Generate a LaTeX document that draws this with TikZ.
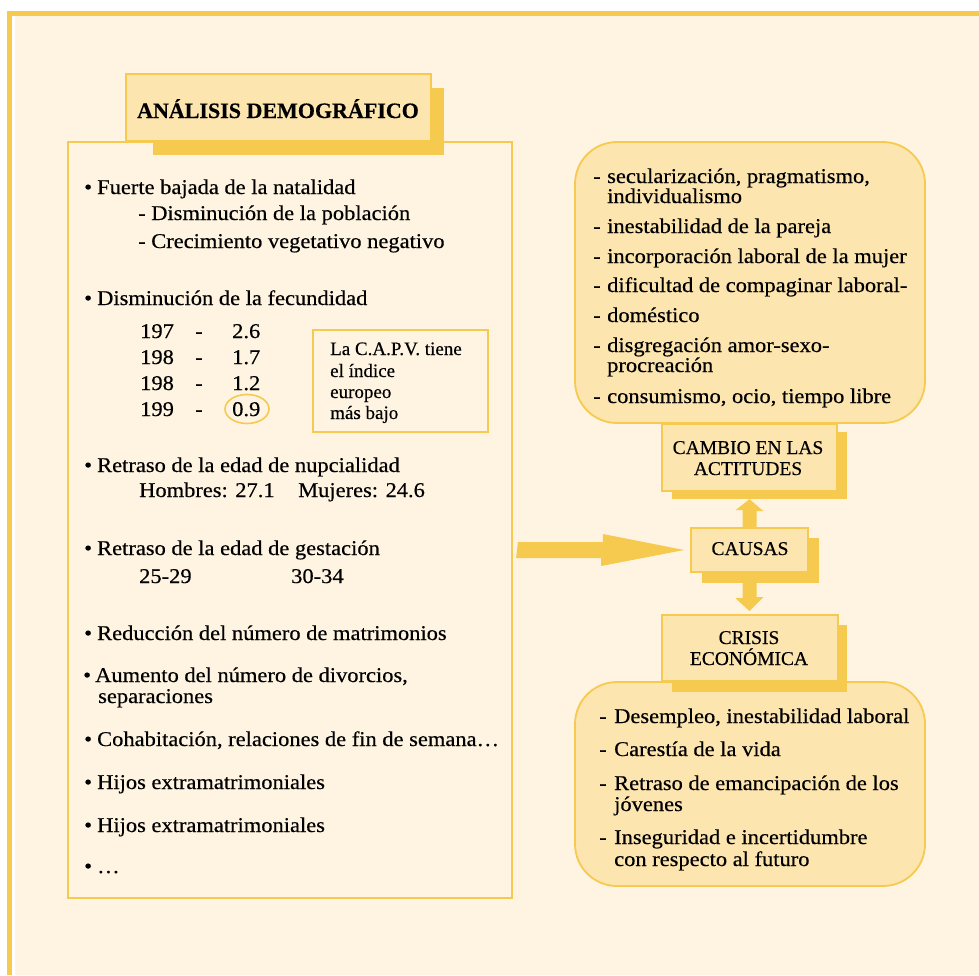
\documentclass[tikz,border=0pt]{standalone}
\usepackage{fontspec}
\setmainfont{Liberation Serif}[FakeStretch=1.07,FakeBold=0.4]
\newfontfamily\plainserif{Liberation Serif}[FakeBold=0.4]
\usetikzlibrary{shapes.geometric,calc}
\definecolor{ylw}{HTML}{F6C94F}
\definecolor{cream}{HTML}{FEF4E1}
\definecolor{lite}{HTML}{FDE5B0}
\begin{document}
\begin{tikzpicture}[x=1pt,y=-1pt,
  t/.style={anchor=base west,inner sep=0pt,font=\fontsize{21}{22}\selectfont},
  tc/.style={anchor=base,inner sep=0pt,font=\plainserif\fontsize{19.5}{20}\selectfont},
  capv/.style={anchor=base west,inner sep=0pt,font=\plainserif\fontsize{19}{20}\selectfont},
  frame/.style={draw=ylw,line width=1.8pt,inner sep=0pt},
  sqbox/.style={frame,fill=lite},
  shadowbox/.style={fill=ylw,inner sep=0pt},
  roundbox/.style={frame,fill=lite,rounded corners=42pt},
  mainbox/.style={frame,fill=cream}]
\useasboundingbox (0,0) rectangle (979,975);
\clip (0,0) rectangle (979,975);
\fill[white] (0,0) rectangle (979,975);
\fill[cream] (15,16) rectangle (979,975);
\fill[ylw] (7,11) rectangle (979,16);
\fill[ylw] (7,11) rectangle (12,975);

% main left box and title
\node[mainbox,minimum width=444pt,minimum height=756pt] (main) at (290,520) {};
\node[shadowbox,minimum width=291pt,minimum height=67pt] (titlesh) at (298.5,121.5) {};
\node[sqbox,minimum width=305pt,minimum height=67pt] (title) at (278.5,107.5) {};
\node[tc,font=\plainserif\fontsize{22}{23}\selectfont\bfseries] (titletxt) at (278,118) {ANÁLISIS DEMOGRÁFICO};

% left list
\node[t] (b1) at (84,194) {•};
\node[t] (l1) at (97,194) {Fuerte bajada de la natalidad};
\node[t] (l1a) at (138,220) {- Disminución de la población};
\node[t] (l1b) at (138,248) {- Crecimiento vegetativo negativo};
\node[t] (b2) at (84,305) {•};
\node[t] (l2) at (97,305) {Disminución de la fecundidad};
\node[t] (y1) at (140,338) {197};
\node[t] (d1) at (195,338) {-};
\node[t] (v1) at (232,338) {2.6};
\node[t] (y2) at (140,364) {198};
\node[t] (d2) at (195,364) {-};
\node[t] (v2) at (232,364) {1.7};
\node[t] (y3) at (140,390) {198};
\node[t] (d3) at (195,390) {-};
\node[t] (v3) at (232,390) {1.2};
\node[t] (y4) at (140,416) {199};
\node[t] (d4) at (195,416) {-};
\node[t] (v4) at (232,416) {0.9};
\node[draw=ylw,line width=1.6pt,ellipse,minimum width=44pt,minimum height=29pt,inner sep=0pt] (ring) at (247,409) {};
\node[frame,fill=cream,minimum width=175pt,minimum height=102pt] (capvbox) at (400.5,381) {};
\node[capv] (c1) at (330,355) {La C.A.P.V. tiene};
\node[capv] (c2) at (330,377) {el índice};
\node[capv] (c3) at (330,398) {europeo};
\node[capv] (c4) at (330,419) {más bajo};
\node[t] (b3) at (84,472) {•};
\node[t] (l3) at (97,472) {Retraso de la edad de nupcialidad};
\node[t] (l3a) at (139,497) {Hombres: 27.1};
\node[t] (l3b) at (298,497) {Mujeres: 24.6};
\node[t] (b4) at (84,555) {•};
\node[t] (l4) at (97,555) {Retraso de la edad de gestación};
\node[t] (l4a) at (139,583) {25-29};
\node[t] (l4b) at (291,583) {30-34};
\node[t] (b5) at (84,640) {•};
\node[t] (l5) at (97,640) {Reducción del número de matrimonios};
\node[t] (b6) at (83,682) {•};
\node[t] (l6) at (95,682) {Aumento del número de divorcios,};
\node[t] (l6a) at (98,703) {separaciones};
\node[t] (b7) at (84,746) {•};
\node[t] (l7) at (97,746) {Cohabitación, relaciones de fin de semana…};
\node[t] (b8) at (84,789) {•};
\node[t] (l8) at (97,789) {Hijos extramatrimoniales};
\node[t] (b9) at (84,832) {•};
\node[t] (l9) at (97,832) {Hijos extramatrimoniales};
\node[t] (b10) at (84,873) {•};
\node[t] (l10) at (97,873) {…};

% right column boxes
\node[roundbox,minimum width=350pt,minimum height=281pt] (actbox) at (750,282.5) {};
\node[roundbox,minimum width=350pt,minimum height=204pt] (ecobox) at (750,784) {};

\node[shadowbox,minimum width=175pt,minimum height=67pt] (cambiosh) at (759.5,465.5) {};
\node[sqbox,minimum width=175pt,minimum height=67pt] (cambio) at (749.5,457.5) {};
\node[shadowbox,minimum width=117pt,minimum height=45pt] (causassh) at (760.5,560.5) {};
\node[sqbox,minimum width=117pt,minimum height=44pt] (causas) at (749.5,550) {};
\node[shadowbox,minimum width=175pt,minimum height=67pt] (crisissh) at (759.5,658.5) {};
\node[sqbox,minimum width=176pt,minimum height=66pt] (crisis) at (750,648) {};

\node[tc] (cam1) at (748,454) {CAMBIO EN LAS};
\node[tc] (cam2) at (748,475) {ACTITUDES};
\node[tc] (cau) at (750,555) {CAUSAS};
\node[tc] (cri1) at (749,644) {CRISIS};
\node[tc] (cri2) at (749,665) {ECONÓMICA};

% arrows
\fill[ylw] ([xshift=-7pt]causas.north) -- ++(0,-17) -- ++(-7,0)
  -- (causas.north |- cambiosh.south) -- ++(14,12) -- ++(-7,0) -- ++(0,17) -- cycle;
\coordinate (dtip) at ($(causas.south |- crisis.north)+(0,-3)$);
\fill[ylw] ([xshift=-7pt]causas.south |- causassh.south) -- ++(0,15) -- ++(-7,0)
  -- (dtip) -- ++(14,-14) -- ++(-7,0) -- ++(0,-15) -- cycle;
\coordinate (arrstart) at ([xshift=5pt]main.east |- causas.west);
\fill[ylw] ([yshift=8pt]arrstart) -- ++(85,0) -- ++(0,-8) -- ([xshift=-6pt]causas.west)
  -- ++(-83,16) -- ++(0,-8) -- ++(-85,0) -- cycle;

% right top list
\node[t] (ad1) at (593,183) {-};
\node[t] (a1) at (607,183) {secularización, pragmatismo,};
\node[t] (a1b) at (607,203) {individualismo};
\node[t] (ad2) at (593,233) {-};
\node[t] (a2) at (607,233) {inestabilidad de la pareja};
\node[t] (ad3) at (593,263) {-};
\node[t] (a3) at (607,263) {incorporación laboral de la mujer};
\node[t] (ad4) at (593,292) {-};
\node[t] (a4) at (607,292) {dificultad de compaginar laboral-};
\node[t] (ad5) at (593,322) {-};
\node[t] (a5) at (607,322) {doméstico};
\node[t] (ad6) at (593,352) {-};
\node[t] (a6) at (607,352) {disgregación amor-sexo-};
\node[t] (a6b) at (607,372) {procreación};
\node[t] (ad7) at (593,403) {-};
\node[t] (a7) at (607,403) {consumismo, ocio, tiempo libre};

% right bottom list
\node[t] (ed1) at (599,723) {-};
\node[t] (e1) at (614,723) {Desempleo, inestabilidad laboral};
\node[t] (ed2) at (599,756) {-};
\node[t] (e2) at (614,756) {Carestía de la vida};
\node[t] (ed3) at (599,790) {-};
\node[t] (e3) at (614,790) {Retraso de emancipación de los};
\node[t] (e3b) at (614,811) {jóvenes};
\node[t] (ed4) at (599,844) {-};
\node[t] (e4) at (614,844) {Inseguridad e incertidumbre};
\node[t] (e4b) at (614,866) {con respecto al futuro};
\end{tikzpicture}
\end{document}
